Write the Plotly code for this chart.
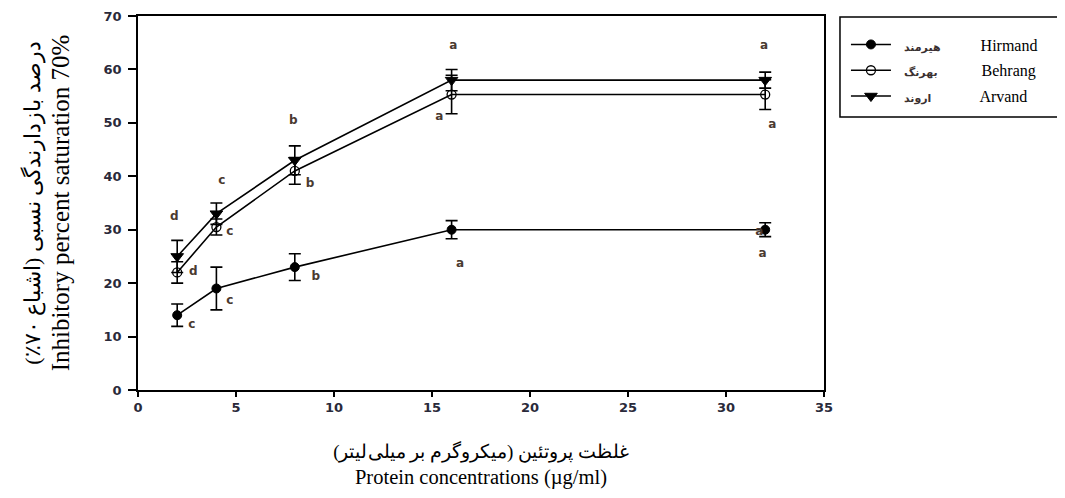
import plotly.graph_objects as go

conc = [2, 4, 8, 16, 32]

hirmand = [14, 19, 23, 30, 30]
hirmand_err = [2.1, 4.0, 2.5, 1.7, 1.3]
behrang = [22, 30.5, 41, 55.3, 55.3]
behrang_err = [2.0, 1.5, 2.5, 3.6, 2.8]
arvand = [25, 33, 43, 58, 58]
arvand_err = [3.0, 2.0, 2.7, 2.0, 1.5]

letter_x = [1.85, 2.82, 2.74, 4.69, 4.27, 4.69, 9.07, 7.92, 8.78, 16.09, 15.37, 16.43, 31.94, 32.36, 31.87, 31.7]
letter_y = [32.4, 22.1, 12.2, 16.6, 39.2, 29.6, 21.1, 50.3, 38.6, 64.4, 51.1, 23.65, 64.4, 49.6, 25.5, 29.6]
letter_t = ["d", "d", "c", "c", "c", "c", "b", "b", "b", "a", "a", "a", "a", "a", "a", "a"]

names_fa = ["هیرمند", "بهرنگ", "اروند"]
names_en = ["Hirmand", "Behrang", "Arvand"]
name_gap = [10, 11, 12]

x_ticks = [0, 5, 10, 15, 20, 25, 30, 35]
y_ticks = [0, 10, 20, 30, 40, 50, 60, 70]

ytitle_fa = "\u202bدرصد بازدارندگی نسبی (اشباع ۷۰٪)\u202c"
ytitle_en = "Inhibitory percent saturation 70%"
xtitle_fa = "\u202bغلظت پروتئین (میکروگرم بر میلی\u200cلیتر)\u202c"
xtitle_en = "Protein concentrations (µg/ml)"

def legend_name(fa, en, gap):
    return ("\u00a0\u00a0<span style='font-family:DejaVu Sans;font-size:11px;color:#3a3030'><b>" + fa +
            "</b></span>" + "\u00a0" * gap + en)

fig = go.Figure()
series = [
    (hirmand, hirmand_err, dict(symbol="circle", size=9, color="black",
                                line=dict(color="black", width=1))),
    (behrang, behrang_err, dict(symbol="circle-open", size=9, color="black",
                                line=dict(color="black", width=1.3))),
    (arvand, arvand_err, dict(symbol="triangle-down", size=11, color="black",
                              line=dict(color="black", width=1))),
]
for i, (vals, errs, mk) in enumerate(series):
    fig.add_trace(go.Scatter(
        x=conc, y=vals, mode="lines+markers",
        name=legend_name(names_fa[i], names_en[i], name_gap[i]),
        legendgroup=names_en[i],
        line=dict(color="black", width=1.6),
        marker=mk,
        error_y=dict(type="data", array=errs, visible=True, color="black",
                     thickness=1.6, width=6),
    ))

fig.add_trace(go.Scatter(
    x=letter_x, y=letter_y, text=letter_t, mode="text",
    textfont=dict(family="DejaVu Sans", size=12, color="#4a3a30", weight="bold"),
    showlegend=False, hoverinfo="skip",
))

# legend frame (runs past the right edge as in the reference)
fig.add_shape(type="rect", xref="paper", yref="paper",
              x0=1.0233, x1=1.6, y0=0.73, y1=0.997,
              line=dict(color="black", width=1.5), fillcolor="rgba(0,0,0,0)", layer="above")

fig.update_layout(
    width=1057, height=490,
    margin=dict(l=130, r=241, t=8, b=108, autoexpand=False),
    paper_bgcolor="white", plot_bgcolor="white",
    font=dict(family="Liberation Serif", color="black", size=16),
    showlegend=True,
    legend=dict(x=1.032, y=0.99, xanchor="left", yanchor="top",
                borderwidth=0, bgcolor="rgba(0,0,0,0)",
                font=dict(family="Liberation Serif", size=16, color="black"),
                title=dict(text=" ", font=dict(size=6)),
                tracegroupgap=2, itemwidth=40),
    xaxis=dict(range=[0, 35], tickvals=x_ticks, ticks="outside", ticklen=5,
               tickwidth=1.5, tickcolor="black", showline=True, linecolor="black",
               linewidth=1.5, mirror=True, showgrid=False, zeroline=False,
               tickfont=dict(family="DejaVu Sans", size=13, color="#2a2a3a", weight="bold"),
               title=dict(text="<span style='font-size:19px'>" + xtitle_fa + "</span><br>" + xtitle_en,
                          standoff=29,
                          font=dict(family="Liberation Serif", size=20.5))),
    yaxis=dict(range=[0, 70], tickvals=y_ticks, ticks="outside", ticklen=8,
               tickwidth=1.5, tickcolor="black", showline=True, linecolor="black",
               linewidth=1.5, mirror=True, showgrid=False, zeroline=False,
               ticklabelstandoff=4,
               tickfont=dict(family="DejaVu Sans", size=13, color="#2a2a3a", weight="bold"),
               title=dict(text="<span style='font-size:22px'>" + ytitle_fa + "</span><br>" +
                          "<span style='font-size:25px'>" + ytitle_en + "</span>",
                          standoff=27,
                          font=dict(family="Liberation Serif", size=23))),
)

fig.write_html("out.html")
